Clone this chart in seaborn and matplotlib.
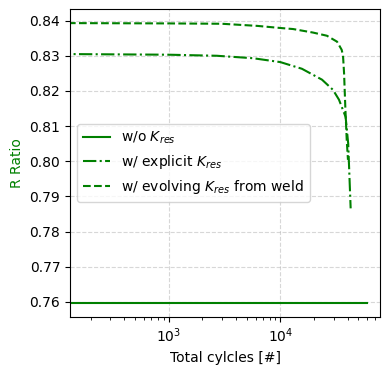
import matplotlib
matplotlib.use("Agg")
import matplotlib.pyplot as plt
import seaborn as sns
import pandas as pd

# --- data ---
cycles_wo = [100, 1000, 10000, 59600]
r_wo = [0.7597, 0.7597, 0.7597, 0.7597]

cycles_explicit = [100, 1000, 2700, 5700, 10000, 15600, 23600, 29600, 33500, 38400, 40500, 42600]
r_explicit = [0.8305, 0.8303, 0.8300, 0.8293, 0.8282, 0.8263, 0.8232, 0.8203, 0.8175, 0.8126, 0.8050, 0.7866]

cycles_evolving = [100, 1000, 3000, 6200, 10000, 13000, 19600, 26100, 32200, 35400, 36400, 37200, 38200, 39300, 40300]
r_evolving = [0.8393, 0.8392, 0.8391, 0.8385, 0.8379, 0.8376, 0.8366, 0.8357, 0.8340, 0.8317, 0.8300, 0.8250, 0.8150, 0.8060, 0.8004]

labels = [r"w/o $K_{res}$", r"w/ explicit $K_{res}$", r"w/ evolving $K_{res}$ from weld"]

fig = plt.figure(figsize=(3.9, 3.75), dpi=100)
ax = fig.add_axes([70/390, 1-317/375, (380-70)/390, (317-9)/375])

df_wo = pd.DataFrame({"x": cycles_wo, "y": r_wo})
df_ex = pd.DataFrame({"x": cycles_explicit, "y": r_explicit})
df_ev = pd.DataFrame({"x": cycles_evolving, "y": r_evolving})

sns.lineplot(data=df_wo, x="x", y="y", ax=ax, color="green", linestyle="-", label=labels[0], linewidth=1.5)
sns.lineplot(data=df_ex, x="x", y="y", ax=ax, color="green", linestyle="-.", label=labels[1], linewidth=1.5)
sns.lineplot(data=df_ev, x="x", y="y", ax=ax, color="green", linestyle="--", label=labels[2], linewidth=1.5)

ax.set_xscale("log")
ax.set_xlim(131, 78000)
ax.set_ylim(0.7557, 0.8433)
ax.set_yticks([0.76, 0.77, 0.78, 0.79, 0.80, 0.81, 0.82, 0.83, 0.84])
ax.set_xlabel("Total cylcles [#]")
ax.set_ylabel("R Ratio", color="green")
ax.grid(True, linestyle="--", alpha=0.5)
ax.legend(loc="center left")

fig.savefig("out.png", dpi=100)
